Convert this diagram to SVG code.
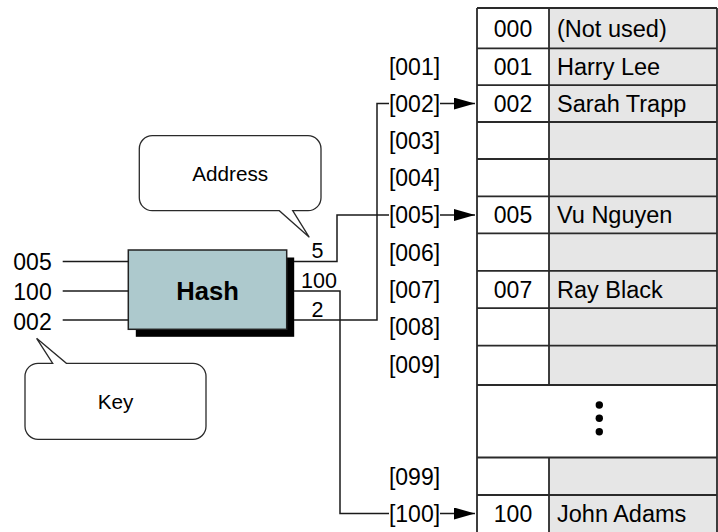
<svg xmlns="http://www.w3.org/2000/svg" width="718" height="532" viewBox="0 0 718 532">
<defs>
<style>
text{font-family:"Liberation Sans",Arial,Helvetica,sans-serif;fill:#000}
.t{font-size:23.5px}
.n{font-size:23px;text-anchor:middle}
.o{font-size:21.5px;text-anchor:middle}
.c{font-size:20.7px;text-anchor:middle}
.h{font-size:25.6px;font-weight:bold;text-anchor:middle}
.ln{fill:none;stroke:#1a1a1a;stroke-width:1.5}
.tb{fill:none;stroke:#2a2a2a;stroke-width:1.8}
.co{fill:#fff;stroke:#2a2a2a;stroke-width:1.3}
</style>
<marker id="ah" markerUnits="userSpaceOnUse" markerWidth="22" markerHeight="13" refX="21" refY="6" orient="auto">
<path d="M0,0 L21,6 L0,12 Z" fill="#000"/>
</marker>
</defs>
<rect width="718" height="532" fill="#fff"/>

<g id="table">
<rect x="477" y="8" width="72" height="524" fill="#fff"/>
<rect x="549" y="8" width="168" height="524" fill="#e6e6e6"/>
<rect x="477" y="385" width="240" height="72.5" fill="#fff"/>
<path class="tb" d="M477,8 V533 M717,8 V533 M549,8 V385 M549,457.5 V533
M477,8 H717 M477,48.3 H717 M477,85.2 H717 M477,122 H717 M477,159 H717 M477,196.3 H717 M477,233.4 H717 M477,270.8 H717 M477,308.2 H717 M477,345.7 H717 M477,385 H717 M477,457.5 H717 M477,495 H717"/>
<g id="row000"><text class="n" x="513" y="37">000</text><text class="t" x="557" y="37">(Not used)</text></g>
<g id="row001"><text class="n" x="513" y="74.7">001</text><text class="t" x="557" y="74.7">Harry Lee</text></g>
<g id="row002"><text class="n" x="513" y="111.6">002</text><text class="t" x="557" y="111.6">Sarah Trapp</text></g>
<g id="row005"><text class="n" x="513" y="222.7">005</text><text class="t" x="557" y="222.7">Vu Nguyen</text></g>
<g id="row007"><text class="n" x="513" y="297.6">007</text><text class="t" x="557" y="297.6">Ray Black</text></g>
<g id="ellipsis"><circle cx="599.3" cy="405" r="3.7"/><circle cx="599.3" cy="418.3" r="3.7"/><circle cx="599.3" cy="431.7" r="3.7"/></g>
<g id="row100"><text class="n" x="513" y="521.6">100</text><text class="t" x="557" y="521.6">John Adams</text></g>
</g>

<g id="addresses">
<text class="n" x="414.5" y="74.7">[001]</text>
<text class="n" x="414.5" y="111.6">[002]</text>
<text class="n" x="414.5" y="148.5">[003]</text>
<text class="n" x="414.5" y="185.5">[004]</text>
<text class="n" x="414.5" y="222.7">[005]</text>
<text class="n" x="414.5" y="260.5">[006]</text>
<text class="n" x="414.5" y="297.6">[007]</text>
<text class="n" x="414.5" y="334.5">[008]</text>
<text class="n" x="414.5" y="373">[009]</text>
<text class="n" x="414.5" y="484.8">[099]</text>
<text class="n" x="414.5" y="521.6">[100]</text>
</g>

<g id="keys">
<text class="n" x="32.5" y="270">005</text>
<text class="n" x="32.5" y="300">100</text>
<text class="n" x="32.5" y="329.5">002</text>
</g>

<g id="hash">
<rect x="135.8" y="257.5" width="158.4" height="79.3" fill="#000"/>
<rect x="128.3" y="250" width="158.4" height="79.3" fill="#adc9cd" stroke="#222" stroke-width="1.5"/>
<text class="h" x="207.5" y="300">Hash</text>
</g>

<g id="callout-address">
<path class="co" d="M152.3,135.7 H308 A13,13 0 0 1 321,148.7 V197.7 A13,13 0 0 1 308,210.7 H292.7 L309.3,237.3 L279.3,210.7 H152.3 A13,13 0 0 1 139.3,197.7 V148.7 A13,13 0 0 1 152.3,135.7 Z"/>
<text class="c" x="230.2" y="180.6">Address</text>
</g>

<g id="callout-key">
<path class="co" d="M38,363.3 H52.7 L36.6,338.3 L66.4,363.3 H193 A13,13 0 0 1 206,376.3 V426.3 A13,13 0 0 1 193,439.3 H38 A13,13 0 0 1 25,426.3 V376.3 A13,13 0 0 1 38,363.3 Z"/>
<text class="c" x="115.5" y="408.5">Key</text>
</g>

<g id="outputs">
<text class="o" x="317.5" y="258">5</text>
<text class="o" x="319" y="288">100</text>
<text class="o" x="317.5" y="316.5">2</text>
</g>

<g id="connectors">
<path class="ln" d="M62.7,261.5 H128.3"/>
<path class="ln" d="M62.7,291 H128.3"/>
<path class="ln" d="M62.7,320 H128.3"/>
<path class="ln" d="M294,261.5 H337 V215 H389"/>
<path class="ln" d="M294,291 H340 V513.5 H389"/>
<path class="ln" d="M294,320 H377 V103.6 H389"/>
<path class="ln" d="M440,103.6 H475" marker-end="url(#ah)"/>
<path class="ln" d="M440,215 H475" marker-end="url(#ah)"/>
<path class="ln" d="M440,513.5 H475" marker-end="url(#ah)"/>
</g>
</svg>
